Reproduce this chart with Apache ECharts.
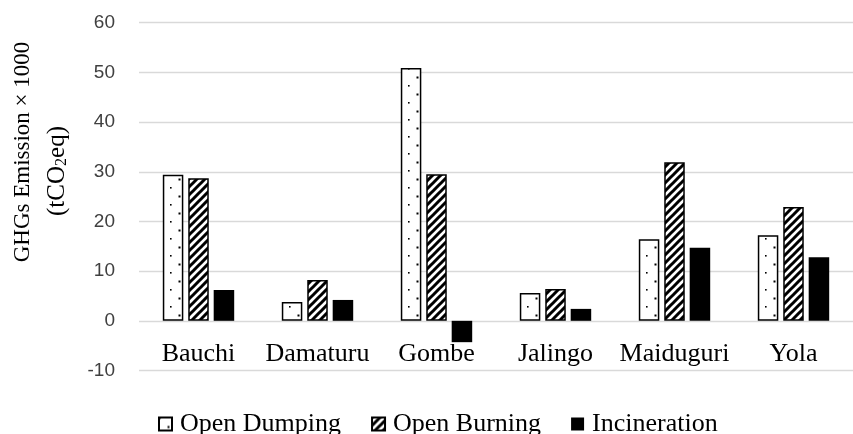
<!DOCTYPE html>
<html>
<head>
<meta charset="utf-8">
<script src="https://cdn.jsdelivr.net/npm/echarts@6/dist/echarts.min.js"></script>
<style>
  html, body { margin: 0; padding: 0; background: #fff; }
  #chart { width: 853px; height: 434px; }
</style>
</head>
<body>
<div id="chart"></div>
<script>
// Cities and emission estimates (thousand tCO2eq) per waste treatment option
const cities = ['Bauchi', 'Damaturu', 'Gombe', 'Jalingo', 'Maiduguri', 'Yola'];
const openDumping = [29.4, 3.8, 50.9, 5.6, 16.4, 17.2];
const openBurning = [28.7, 8.2, 29.5, 6.4, 31.9, 22.9];
const incineration = [6.2, 4.2, -4.3, 2.4, 14.7, 12.8];
const seriesNames = ['Open Dumping', 'Open Burning', 'Incineration'];
const yTicks = { min: -10, max: 60, step: 10 };

const SERIF = '"Liberation Serif", "Times New Roman", serif';
const SANS = '"Liberation Sans", Arial, sans-serif';

// Sparse dotted fill tile
function dotTile() {
  const c = document.createElement('canvas');
  c.width = 17; c.height = 17;
  const g = c.getContext('2d');
  g.fillStyle = '#fff';
  g.fillRect(0, 0, 17, 17);
  g.fillStyle = '#000';
  g.fillRect(0, 0, 1.6, 1.6);
  g.fillRect(8.5, 8.5, 2, 2);
  return c;
}

// Forward diagonal hatch tile
function hatchTile() {
  const s = 8;
  const c = document.createElement('canvas');
  c.width = s; c.height = s;
  const g = c.getContext('2d');
  g.fillStyle = '#fff';
  g.fillRect(0, 0, s, s);
  g.strokeStyle = '#000';
  g.lineWidth = 3;
  g.lineCap = 'square';
  g.beginPath();
  g.moveTo(-1, s + 1); g.lineTo(s + 1, -1);
  g.moveTo(-3, 3); g.lineTo(3, -3);
  g.moveTo(s - 3, s + 3); g.lineTo(s + 3, s - 3);
  g.stroke();
  return c;
}

const chart = echarts.init(document.getElementById('chart'), null, { renderer: 'canvas' });

const barBase = { type: 'bar', barGap: '24%', barCategoryGap: '40%' };

chart.setOption({
  animation: false,
  backgroundColor: '#fff',
  grid: { left: 139, right: -11, top: 22.7, bottom: 63.5, containLabel: false },
  legend: {
    data: seriesNames,
    icon: 'rect',
    left: 153,
    top: 406,
    itemWidth: 13,
    itemHeight: 13,
    itemGap: 30,
    textStyle: { fontFamily: SERIF, fontSize: 26, color: '#000', padding: [0, 0, 0, 3] }
  },
  xAxis: {
    type: 'category',
    data: cities,
    axisLine: { show: false },
    axisTick: { show: false },
    // category names sit just under the zero line, above the -10 gridline
    axisLabel: { fontFamily: SERIF, fontSize: 26, color: '#000', margin: -29, interval: 0 }
  },
  yAxis: {
    type: 'value',
    min: yTicks.min,
    max: yTicks.max,
    interval: yTicks.step,
    axisLine: { show: false },
    axisTick: { show: false },
    splitLine: { lineStyle: { color: '#d9d9d9', width: 1.3 } },
    axisLabel: { fontFamily: SANS, fontSize: 19, color: '#404040', margin: 24 }
  },
  graphic: [
    {
      type: 'text',
      x: 23, y: 152,
      rotation: Math.PI / 2,
      style: {
        text: 'GHGs Emission × 1000',
        font: '23px ' + SERIF,
        fill: '#000',
        align: 'center',
        verticalAlign: 'middle'
      }
    },
    {
      type: 'text',
      x: 57, y: 171,
      rotation: Math.PI / 2,
      style: {
        text: '(tCO{s|2}eq)',
        font: '25px ' + SERIF,
        fill: '#000',
        align: 'center',
        verticalAlign: 'middle',
        rich: {
          s: { fontFamily: SERIF, fontSize: 16, verticalAlign: 'bottom', padding: [9, 0, 0, 0] }
        }
      }
    }
  ],
  series: [
    Object.assign({}, barBase, {
      name: seriesNames[0],
      data: openDumping,
      itemStyle: { color: { image: dotTile(), repeat: 'repeat' }, borderColor: '#000', borderWidth: 1.5 }
    }),
    Object.assign({}, barBase, {
      name: seriesNames[1],
      data: openBurning,
      itemStyle: { color: { image: hatchTile(), repeat: 'repeat' }, borderColor: '#000', borderWidth: 1.5 }
    }),
    Object.assign({}, barBase, {
      name: seriesNames[2],
      data: incineration,
      itemStyle: { color: '#000', borderColor: '#000', borderWidth: 0 }
    })
  ]
});
</script>
</body>
</html>
